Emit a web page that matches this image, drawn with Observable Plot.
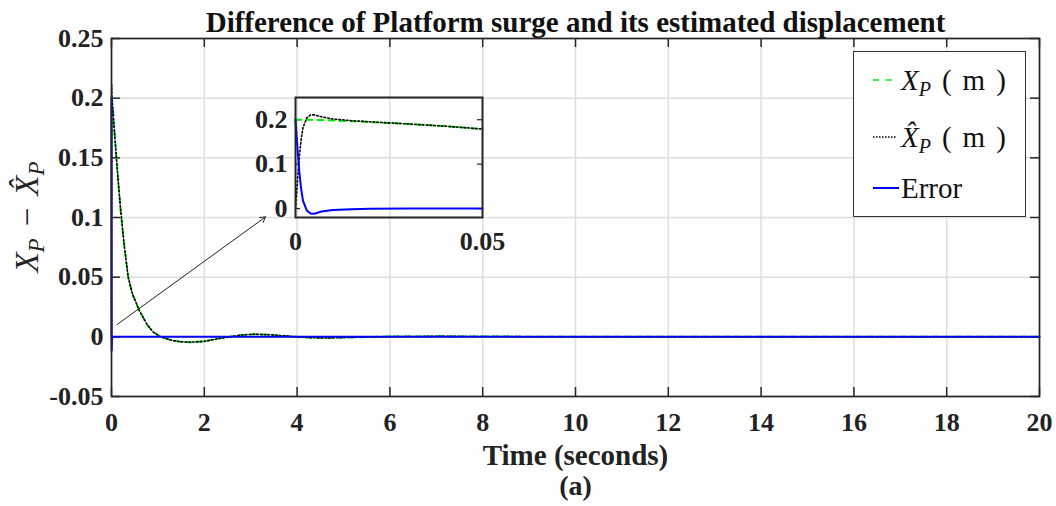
<!DOCTYPE html>
<html><head><meta charset="utf-8">
<script src="https://cdn.jsdelivr.net/npm/d3@7"></script>
<script src="https://cdn.jsdelivr.net/npm/@observablehq/plot@0.6"></script>
<style>
html,body{margin:0;padding:0;background:#fff;}
#wrap{position:relative;width:1056px;height:506px;overflow:hidden;}
#wrap > svg{position:absolute;left:0;top:0;}
.legend{position:absolute;left:853px;top:51px;width:171px;height:164px;border:1.7px solid #333;background:#fff;font-family:"Liberation Serif",serif;font-size:29px;color:#111;}
.row{position:absolute;left:0;height:30px;width:171px;}
.row svg{position:absolute;left:19px;top:0;}
.row .lab{position:absolute;left:47px;top:0;line-height:30px;white-space:pre;}
.it{font-style:italic;}
.sb{font-style:italic;font-size:20px;position:relative;top:6px;}
.gp{display:inline-block;width:11px;}
</style></head><body><div id="wrap"></div>
<script>
// ---------- data ----------
const titleText = "Difference of Platform surge and its estimated displacement";
const xLabelText = "Time (seconds)";
const subLabelText = "(a)";
const xTicks = [0, 2, 4, 6, 8, 10, 12, 14, 16, 18, 20];
const xTickLabels = ["0", "2", "4", "6", "8", "10", "12", "14", "16", "18", "20"];
const yTicks = [-0.05, 0, 0.05, 0.1, 0.15, 0.2, 0.25];
const yTickLabels = ["-0.05", "0", "0.05", "0.1", "0.15", "0.2", "0.25"];
const insetXTicks = [0, 0.05];
const insetXTickLabels = ["0", "0.05"];
const insetYTicks = [0, 0.1, 0.2];
const insetYTickLabels = ["0", "0.1", "0.2"];

// first 0.05 s (fine resolution, also shown in the zoom inset)
const tFine    = [0, 0.0005, 0.001, 0.0015, 0.002, 0.003, 0.004, 0.005, 0.007, 0.01, 0.015, 0.02, 0.03, 0.04, 0.05];
const xpFine   = [0.2, 0.2, 0.2, 0.2, 0.2, 0.1998, 0.1997, 0.1995, 0.1991, 0.1983, 0.1968, 0.1948, 0.1905, 0.1855, 0.179];
const xhatFine = [0, 0.06, 0.115, 0.155, 0.182, 0.204, 0.2105, 0.211, 0.2065, 0.2015, 0.1978, 0.1953, 0.1905, 0.1855, 0.179];
const errFine  = [0.2, 0.14, 0.085, 0.045, 0.018, -0.004, -0.011, -0.0115, -0.0065, -0.003, -0.0012, -0.0005, 0, 0, 0];
// rest of the run (coarse resolution)
const tCoarse    = [0.1, 0.15, 0.2, 0.27, 0.36, 0.45, 0.6, 0.77, 0.9, 1.06, 1.3, 1.5, 1.7, 2.0, 2.3, 2.55, 2.8, 3.06, 3.4, 3.7, 4.0, 4.3, 4.6, 5.0, 5.5, 6.0, 7.0, 8.0, 9.0, 10, 12, 14, 16, 18, 20];
const xpCoarse   = [0.153, 0.128, 0.105, 0.078, 0.05, 0.036, 0.022, 0.01, 0.004, 0, -0.003, -0.0042, -0.0045, -0.0038, -0.0015, 0, 0.0015, 0.0022, 0.0018, 0.0009, 0, -0.0007, -0.001, -0.0006, -0.0002, 0.0002, 0.0004, 0.0003, 0.0001, 0, 0, 0, 0, 0, 0];
const xhatCoarse = [0.153, 0.128, 0.105, 0.078, 0.05, 0.036, 0.022, 0.01, 0.004, 0, -0.003, -0.0042, -0.0045, -0.0038, -0.0015, 0, 0.0015, 0.0022, 0.0018, 0.0009, 0, -0.0007, -0.001, -0.0006, -0.0002, 0.0002, 0.0004, 0.0003, 0.0001, 0, 0, 0, 0, 0, 0];
const errCoarse  = [0, 0, 0, 0, 0, 0, 0, 0, 0, 0, 0, 0, 0, 0, 0, 0, 0, 0, 0, 0, 0, 0, 0, 0, 0, 0, 0, 0, 0, 0, 0, 0, 0, 0, 0];

// annotation arrow (from the curve to the inset), in data units
const arrowFrom = [0.12, 0.0103];
const arrowTo = [3.32, 0.1005];

// ---------- build tables ----------
const fine = tFine.map((t, i) => ({t, xp: xpFine[i], xhat: xhatFine[i], err: errFine[i]}));
const coarse = tCoarse.map((t, i) => ({t, xp: xpCoarse[i], xhat: xhatCoarse[i], err: errCoarse[i]}));
const all = fine.concat(coarse);

const AX = "#262626";
const GRID = "#dedede";
const font = "'Liberation Serif', 'Times New Roman', serif";
const baseStyle = {fontFamily: font, fontSize: "26px", fontWeight: "bold", color: AX, background: "transparent", overflow: "visible"};

const W = 1056, H = 506, mL = 111, mR = 17, mT = 38, mB = 110;
const iw = W - mL - mR, ih = H - mT - mB, tk = 9;

const lineMarks = (data) => [
  Plot.line(data, {x: "t", y: "xp", stroke: "#00ee00", strokeWidth: 2, strokeDasharray: "6,5"}),
  Plot.line(data, {x: "t", y: "xhat", stroke: "#000", strokeWidth: 1.6, strokeDasharray: "1.6,2.2"}),
  Plot.line(data, {x: "t", y: "err", stroke: "#0000ff", strokeWidth: 2})
];

const main = Plot.plot({
  width: W, height: H, marginLeft: mL, marginRight: mR, marginTop: mT, marginBottom: mB,
  style: baseStyle,
  x: {domain: [0, 20]},
  y: {domain: [-0.05, 0.25]},
  marks: [
    Plot.gridX(xTicks, {stroke: GRID, strokeOpacity: 1, strokeWidth: 1.5}),
    Plot.gridY(yTicks, {stroke: GRID, strokeOpacity: 1, strokeWidth: 1.5}),
    Plot.tickX(xTicks, {x: d => d, insetTop: ih - tk, stroke: AX, strokeWidth: 1.5}),
    Plot.tickX(xTicks, {x: d => d, insetBottom: ih - tk, stroke: AX, strokeWidth: 1.5}),
    Plot.tickY(yTicks, {y: d => d, insetRight: iw - tk, stroke: AX, strokeWidth: 1.5}),
    Plot.tickY(yTicks, {y: d => d, insetLeft: iw - tk, stroke: AX, strokeWidth: 1.5}),
    ...lineMarks(all),
    Plot.arrow([{x1: arrowFrom[0], y1: arrowFrom[1], x2: arrowTo[0], y2: arrowTo[1]}],
      {x1: "x1", y1: "y1", x2: "x2", y2: "y2", stroke: "#222", strokeWidth: 1, headLength: 9}),
    Plot.frame({stroke: AX, strokeWidth: 1.7}),
    Plot.axisX(xTicks, {tickSize: 0, tickPadding: 16, tickFormat: (d, i) => xTickLabels[i], label: null, fill: "#222"}),
    Plot.axisY(yTicks, {tickSize: 0, tickPadding: 8, tickFormat: (d, i) => yTickLabels[i], label: null, fill: "#222"}),
    Plot.text([titleText], {text: d => d, frameAnchor: "top", lineAnchor: "middle", dy: -16, fontSize: 29, fontWeight: "bold", fill: "#111"}),
    Plot.text([xLabelText], {text: d => d, frameAnchor: "bottom", lineAnchor: "middle", dy: 59, fontSize: 29, fontWeight: "bold", fill: "#222"}),
    Plot.text([subLabelText], {text: d => d, frameAnchor: "bottom", lineAnchor: "middle", dy: 90, fontSize: 28, fontWeight: "bold", fill: "#222"})
  ]
});

// y-axis label with sub-scripts
const ylab = d3.select(main).append("text")
  .attr("transform", `translate(38,${mT + ih / 2}) rotate(-90)`)
  .attr("text-anchor", "middle")
  .attr("font-family", font)
  .attr("font-size", 33)
  .attr("font-weight", "normal")
  .attr("fill", "#222");
ylab.append("tspan").attr("font-style", "italic").text("X");
ylab.append("tspan").attr("font-style", "italic").attr("font-size", 23).attr("dy", 6).text("P");
ylab.append("tspan").attr("dy", -6).attr("dx", 12).text("\u2212");
ylab.append("tspan").attr("dx", 12).attr("font-style", "italic").text("X\u0302");
ylab.append("tspan").attr("font-style", "italic").attr("font-size", 23).attr("dy", 6).text("P");

// ---------- inset ----------
const iL = 50, iR = 30, iT = 5, iB = 40, iW = 267, iH = 165;
const inset = Plot.plot({
  width: iW, height: iH, marginLeft: iL, marginRight: iR, marginTop: iT, marginBottom: iB,
  style: baseStyle,
  x: {domain: [0, 0.05]},
  y: {domain: [-0.02, 0.25]},
  marks: [
    Plot.tickY(insetYTicks, {y: d => d, insetRight: iW - iL - iR - 5, stroke: AX, strokeWidth: 1.2}),
    Plot.tickY(insetYTicks, {y: d => d, insetLeft: iW - iL - iR - 5, stroke: AX, strokeWidth: 1.2}),
    ...lineMarks(fine),
    Plot.frame({stroke: AX, strokeWidth: 2}),
    Plot.axisX(insetXTicks, {tickSize: 0, tickPadding: 14, tickFormat: (d, i) => insetXTickLabels[i], label: null, fill: "#222"}),
    Plot.axisY(insetYTicks, {tickSize: 0, tickPadding: 8, tickFormat: (d, i) => insetYTickLabels[i], label: null, fill: "#222"})
  ]
});
inset.style.left = (295 - iL) + "px";
inset.style.top = (97.3 - iT) + "px";

const wrap = document.getElementById("wrap");
wrap.appendChild(main);
wrap.appendChild(inset);

// ---------- legend ----------
const unit = '<span class="gp"></span>(<span class="gp"></span>m<span class="gp"></span>)';
const legendItems = [
  {key: "xp", color: "#00ee00", dash: "6,7", width: 1.6, len: 20, html: '<span class="it">X</span><span class="sb">P</span>' + unit},
  {key: "xhat", color: "#000", dash: "1.5,1.5", width: 1.6, len: 24, html: '<span class="it">X\u0302</span><span class="sb">P</span>' + unit},
  {key: "err", color: "#0000ff", dash: null, width: 2, len: 26, html: 'Error'}
];
const legendRowTops = [13, 70, 121];
const leg = document.createElement("div");
leg.className = "legend";
legendItems.forEach((it, i) => {
  const row = document.createElement("div");
  row.className = "row";
  row.style.top = legendRowTops[i] + "px";
  const s = d3.create("svg").attr("width", 30).attr("height", 30);
  s.append("line").attr("x1", 0).attr("x2", it.len).attr("y1", 15).attr("y2", 15)
    .attr("stroke", it.color).attr("stroke-width", it.width)
    .attr("stroke-dasharray", it.dash);
  row.appendChild(s.node());
  const lab = document.createElement("span");
  lab.className = "lab";
  lab.innerHTML = it.html;
  row.appendChild(lab);
  leg.appendChild(row);
});
wrap.appendChild(leg);
</script></body></html>
